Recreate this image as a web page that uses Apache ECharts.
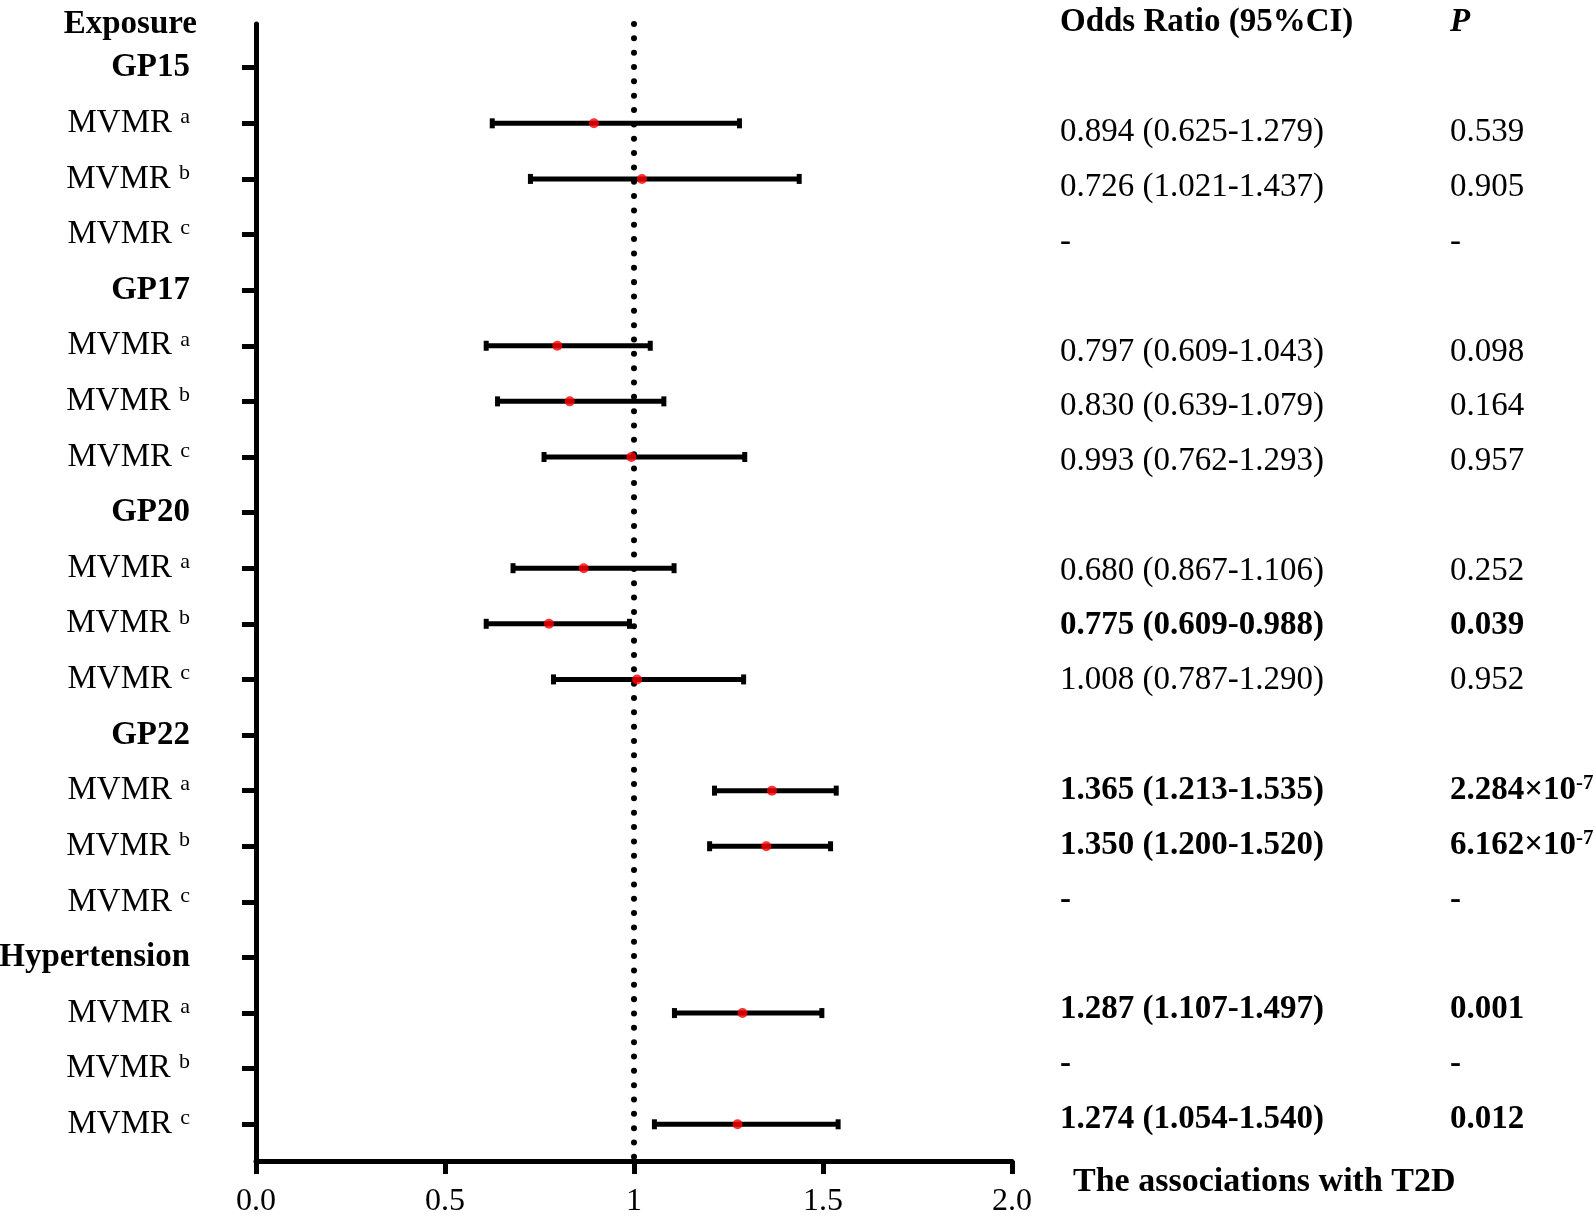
<!DOCTYPE html>
<html><head><meta charset="utf-8">
<script src="https://cdn.jsdelivr.net/npm/echarts@6/dist/echarts.min.js"></script>
<style>html,body{margin:0;padding:0;background:#fff}#c{width:1594px;height:1224px}</style>
</head><body><div id="c"></div>
<script>
// ---- data ----
const rowNames = ['GP15','MVMR','MVMR','MVMR','GP17','MVMR','MVMR','MVMR','GP20','MVMR','MVMR','MVMR','GP22','MVMR','MVMR','MVMR','Hypertension','MVMR','MVMR','MVMR'];
const rowSup   = ['','a','b','c','','a','b','c','','a','b','c','','a','b','c','','a','b','c'];
const orPoint  = [null,0.894,1.021,null, null,0.797,0.830,0.993, null,0.867,0.775,1.008, null,1.365,1.350,null, null,1.287,null,1.274];
const ciLow    = [null,0.625,0.726,null, null,0.609,0.639,0.762, null,0.680,0.609,0.787, null,1.213,1.200,null, null,1.107,null,1.054];
const ciHigh   = [null,1.279,1.437,null, null,1.043,1.079,1.293, null,1.106,0.988,1.290, null,1.535,1.520,null, null,1.497,null,1.540];
const orText   = [null,'0.894 (0.625-1.279)','0.726 (1.021-1.437)','-', null,'0.797 (0.609-1.043)','0.830 (0.639-1.079)','0.993 (0.762-1.293)', null,'0.680 (0.867-1.106)','0.775 (0.609-0.988)','1.008 (0.787-1.290)', null,'1.365 (1.213-1.535)','1.350 (1.200-1.520)','-', null,'1.287 (1.107-1.497)','-','1.274 (1.054-1.540)'];
const pText    = [null,'0.539','0.905','-', null,'0.098','0.164','0.957', null,'0.252','0.039','0.952', null,'2.284×10','6.162×10','-', null,'0.001','-','0.012'];
const pExp     = [null,'','','', null,'','','', null,'','','', null,'-7','-7','', null,'','',''];
const boldRow  = [false,false,false,false, false,false,false,false, false,false,true,false, false,true,true,true, false,true,true,true];
const xTicks   = [0, 0.5, 1, 1.5, 2];
const xTickLabels = ['0.0','0.5','1','1.5','2.0'];
const headerLeft = 'Exposure';
const headerOR = 'Odds Ratio (95%CI)';
const headerP = 'P';
const footer = 'The associations with T2D';

// ---- build ----
const FF = '"Liberation Serif","Times New Roman",serif';
const rows = rowNames.map((_, i) => i + 1);
const whiskers = [], points = [], txt = [];
rows.forEach((r, i) => {
  if (ciLow[i] != null) whiskers.push([ciLow[i], ciHigh[i], r]);
  if (orPoint[i] != null) points.push([orPoint[i], r]);
  if (orText[i] != null) {
    txt.push([0, r, i, 0]);
    txt.push([1, r, i, 1]);
  }
});

const chart = echarts.init(document.getElementById('c'), null, {renderer: 'canvas'});
chart.setOption({
  animation: false,
  backgroundColor: '#fff',
  grid: [
    {left: 256, right: 582, top: 24, bottom: 63, containLabel: false, outerBoundsMode: 'none'},
    {left: 1060, right: 144, top: 24, bottom: 63, containLabel: false, outerBoundsMode: 'none'}
  ],
  xAxis: [
    {gridIndex: 0, type: 'value', min: 0, max: 2, interval: 0.5,
     axisLine: {show: true, onZero: false, lineStyle: {color: '#000', width: 5}},
     axisTick: {show: true, length: 13, lineStyle: {color: '#000', width: 5}},
     axisLabel: {show: true, margin: 25, color: '#000', fontFamily: FF, fontSize: 32,
       formatter: v => xTickLabels[xTicks.indexOf(v)] ?? ''},
     splitLine: {show: false}},
    {gridIndex: 1, type: 'value', min: 0, max: 1, show: false}
  ],
  yAxis: [
    {gridIndex: 0, type: 'value', inverse: true, min: 0.214, max: 20.66,
     axisLine: {show: true, onZero: false, lineStyle: {color: '#000', width: 5}},
     axisTick: {show: true, customValues: rows, length: 14, lineStyle: {color: '#000', width: 5}},
     axisLabel: {show: true, customValues: rows, margin: 66, color: '#000',
       formatter: v => {
         const i = Math.round(v) - 1;
         if (i < 0 || i >= rowNames.length) return '';
         return rowSup[i] ? '{n|' + rowNames[i] + ' }{s|' + rowSup[i] + '}' : '{g|' + rowNames[i] + '}';
       },
       rich: {
         n: {fontFamily: FF, fontSize: 33, lineHeight: 34, color: '#000'},
         s: {fontFamily: FF, fontSize: 22, lineHeight: 22, color: '#000', verticalAlign: 'top'},
         g: {fontFamily: FF, fontSize: 33, lineHeight: 34, color: '#000', fontWeight: 'bold'}
       }},
     splitLine: {show: false}},
    {gridIndex: 1, type: 'value', inverse: true, min: 0.02, max: 20.76, show: false}
  ],
  series: [
    {type: 'custom', xAxisIndex: 0, yAxisIndex: 0, data: whiskers, encode: {x: [0, 1], y: 2}, z: 2,
     renderItem: (params, api) => {
       const r = api.value(2);
       const a = api.coord([api.value(0), r]);
       const b = api.coord([api.value(1), r]);
       return {type: 'group', children: [
         {type: 'line', shape: {x1: a[0], y1: a[1], x2: b[0], y2: b[1]}, style: {stroke: '#000', lineWidth: 5}},
         {type: 'rect', shape: {x: a[0] - 2.5, y: a[1] - 5, width: 5, height: 10}, style: {fill: '#000'}},
         {type: 'rect', shape: {x: b[0] - 2.5, y: b[1] - 5, width: 5, height: 10}, style: {fill: '#000'}}
       ]};
     }},
    {type: 'scatter', xAxisIndex: 0, yAxisIndex: 0, data: points, symbol: 'circle', symbolSize: 10, z: 5,
     itemStyle: {color: '#ff0000'},
     markLine: {silent: true, symbol: ['none', 'none'], label: {show: false}, z: 1,
       lineStyle: {color: '#000', width: 6, type: [0.01, 14.33], cap: 'round'},
       data: [{xAxis: 1}]}},
    {type: 'custom', xAxisIndex: 1, yAxisIndex: 1, data: txt, encode: {x: 0, y: 1}, z: 3, silent: true,
     renderItem: (params, api) => {
       const p = api.coord([api.value(0), api.value(1)]);
       const i = api.value(2), col = api.value(3);
       const bold = boldRow[i];
       const k = bold ? 'b' : 'n';
       const t = col === 0 ? orText[i] : pText[i];
       const e = col === 0 ? '' : pExp[i];
       return {type: 'text', x: p[0], y: p[1], style: {
         text: '{' + k + '|' + t + '}' + (e ? '{' + k + 's|' + e + '}' : ''),
         align: 'left', verticalAlign: 'middle', fill: '#000',
         rich: {
           n: {fontFamily: FF, fontSize: 33, lineHeight: 34, fill: '#000'},
           b: {fontFamily: FF, fontSize: 33, lineHeight: 34, fill: '#000', fontWeight: 'bold'},
           ns: {fontFamily: FF, fontSize: 21, lineHeight: 21, fill: '#000', verticalAlign: 'top'},
           bs: {fontFamily: FF, fontSize: 21, lineHeight: 21, fill: '#000', fontWeight: 'bold', verticalAlign: 'top'}
         }}};
     }}
  ],
  graphic: [
    {type: 'text', x: 197, y: 24, style: {text: headerLeft, fill: '#000', font: 'bold 33px ' + FF, align: 'right', verticalAlign: 'middle'}},
    {type: 'text', x: 1060, y: 22, style: {text: headerOR, fill: '#000', font: 'bold 33px ' + FF, align: 'left', verticalAlign: 'middle'}},
    {type: 'text', x: 1450, y: 22, style: {text: headerP, fill: '#000', font: 'italic bold 33px ' + FF, align: 'left', verticalAlign: 'middle'}},
    {type: 'text', x: 1073, y: 1182, style: {text: footer, fill: '#000', font: 'bold 34px ' + FF, align: 'left', verticalAlign: 'middle'}}
  ]
});
</script></body></html>
